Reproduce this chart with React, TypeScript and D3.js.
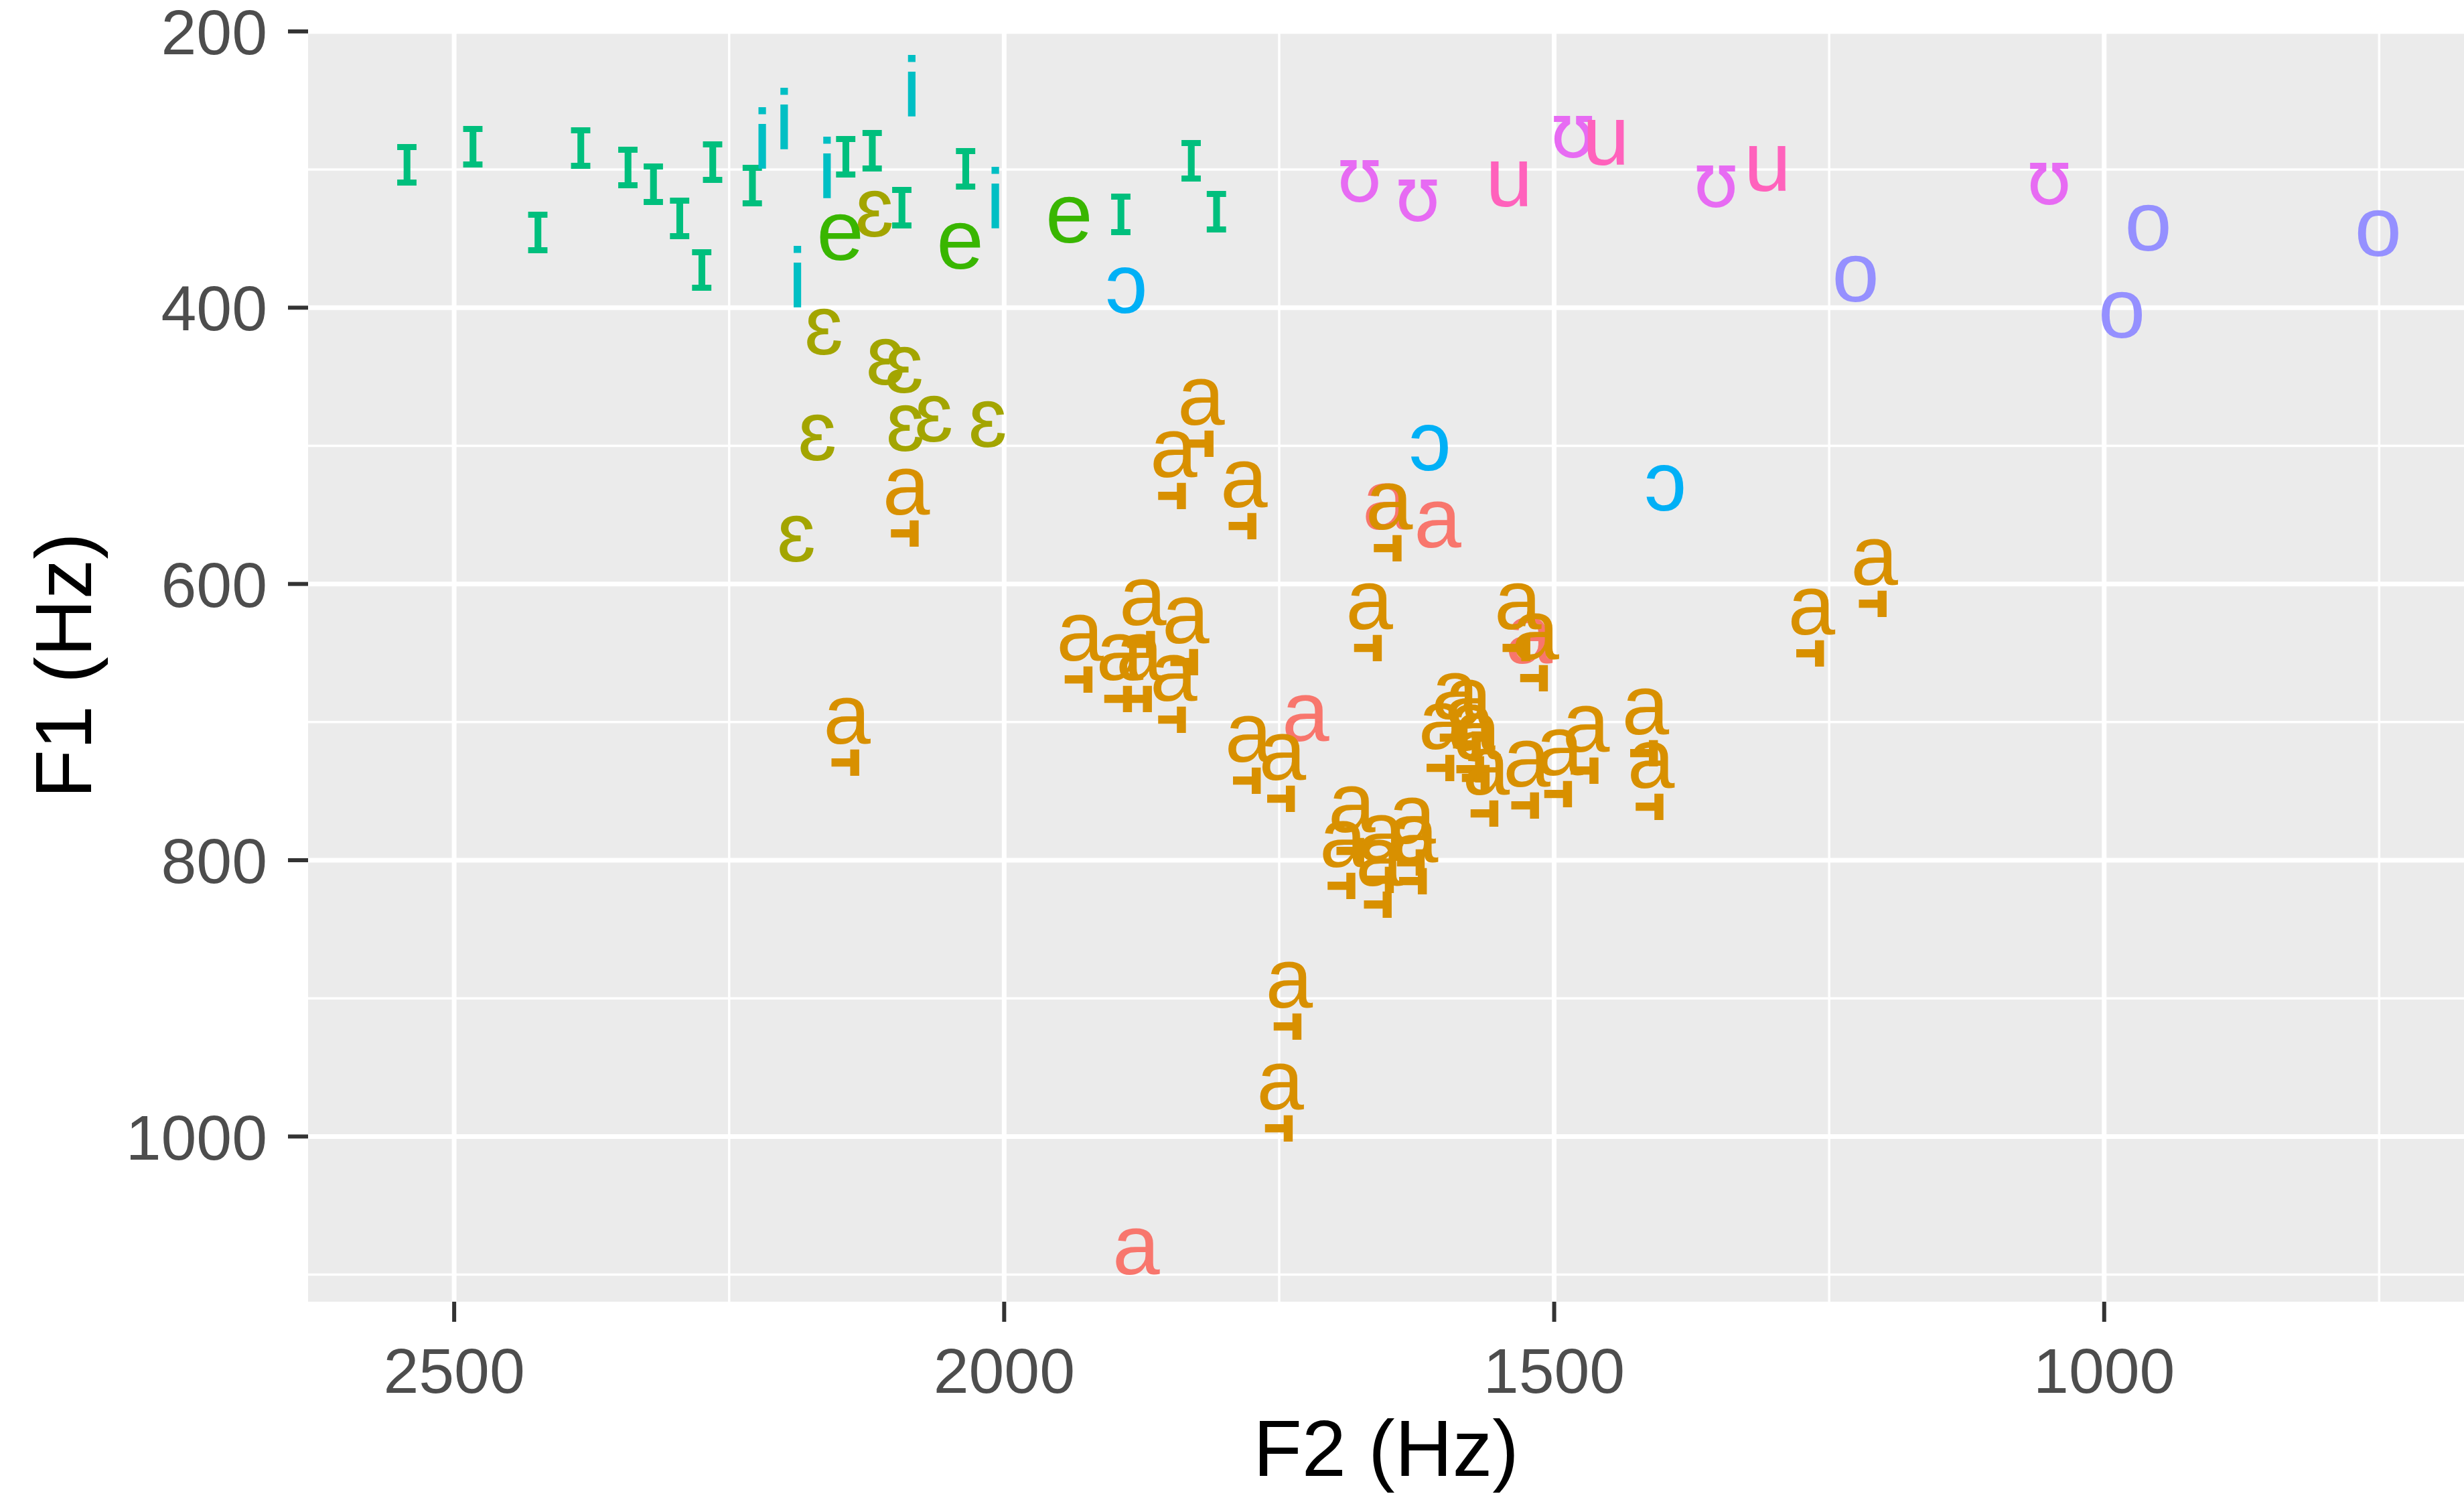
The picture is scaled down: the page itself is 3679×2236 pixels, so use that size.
import React from "react"
import * as d3 from "d3"

// vowel categories in legend order, with ggplot hue colours
const vowelLevels = ["a", "a\u0318", "ɛ", "e", "ɪ", "i", "ɔ", "o", "ʊ", "u"]
const vowelColors = [
  "#F8766D",
  "#D89000",
  "#A3A500",
  "#39B600",
  "#00BF7D",
  "#00BFC4",
  "#00B0F6",
  "#9590FF",
  "#E76BF3",
  "#FF62BC",
]

// formant values per vowel (F2, F1 in Hz)
const f2A = [1880, 1653, 1606, 1726, 1523]
const f1A = [1083, 544, 557, 697, 641]

const f2AAtr = [
  1821, 1846, 1782, 1650, 2089, 1209, 1266, 2143, 1533, 1517, 1741, 1749, 1874,
  1931, 1835, 1895, 1877, 1846, 1668, 1778, 1747, 1590, 1578, 1602, 1575, 1570,
  1562, 1525, 1495, 1471, 1417, 1412, 1684, 1629, 1657, 1692, 1627, 1659,
]
const f1AAtr = [
  468, 506, 528, 544, 533, 584, 620, 699, 616, 638, 890, 964, 613, 639, 626,
  653, 653, 668, 616, 712, 725, 681, 686, 703, 704, 710, 736, 730, 722, 705, 692,
  731, 763, 771, 784, 788, 785, 802,
]

const f2OpenE = [2118, 2164, 2108, 2091, 2090, 2064, 2015, 2170, 2189]
const f1OpenE = [332, 417, 439, 445, 487, 480, 484, 494, 567]

const f2E = [2149, 2040, 1941]
const f1E = [349, 355, 336]

const f2SmallI = [
  2543, 2483, 2424, 2385, 2342, 2319, 2295, 2275, 2265, 2229, 2144, 2120, 2093,
  2035, 1894, 1830, 1807,
]
const f1SmallI = [
  295, 282, 344, 283, 297, 309, 334, 371, 293, 310, 289, 285, 326, 298, 331, 292,
  329,
]

const f2I = [2220, 2200, 2161, 2084, 2008, 2188]
const f1I = [283, 269, 304, 245, 326, 383]

const f2OpenO = [1889, 1613, 1399]
const f1OpenO = [387, 501, 530]

const f2O = [1226, 960, 984, 751]
const f1O = [379, 342, 405, 346]

const f2Upsilon = [1677, 1624, 1483, 1353, 1050]
const f1Upsilon = [306, 320, 274, 310, 308]

const f2U = [1541, 1453, 1306]
const f1U = [310, 280, 299]

const seriesF2 = [f2A, f2AAtr, f2OpenE, f2E, f2SmallI, f2I, f2OpenO, f2O, f2Upsilon, f2U]
const seriesF1 = [f1A, f1AAtr, f1OpenE, f1E, f1SmallI, f1I, f1OpenO, f1O, f1Upsilon, f1U]

const xMajor = [2500, 2000, 1500, 1000]
const xMinor = [2250, 1750, 1250, 750]
const yMajor = [200, 400, 600, 800, 1000]
const yMinor = [300, 500, 700, 900, 1100]

const W = 3679
const H = 2236
const LABEL_SIZE = 127
const MARK_SIZE = 250

export default function App() {
  const panel = { left: 460, right: W, top: 44, bottom: 1943 }

  const x = d3
    .scaleLinear()
    .domain([2632.8, 672.9])
    .range([panel.left, panel.right])
  const y = d3
    .scaleLinear()
    .domain([198.6, 1119.6])
    .range([panel.top, panel.bottom])

  const points = vowelLevels.flatMap((v, k) =>
    seriesF2[k].map((f2, j) => ({
      label: v,
      color: vowelColors[k],
      f2,
      f1: seriesF1[k][j],
    })),
  )

  // the IPA glyphs that come from the fallback font in the original
  const dejavu = (s: string) => s === "ɪ" || s === "ʊ"

  return (
    <svg
      width={W}
      height={H}
      style={{ position: "absolute", left: 0, top: 0, background: "#fff" }}
      fontFamily="'Liberation Sans', Arial, Helvetica, sans-serif"
    >
      <defs>
        <clipPath id="panel-clip">
          <rect
            x={panel.left}
            y={panel.top}
            width={panel.right - panel.left}
            height={panel.bottom - panel.top}
          />
        </clipPath>
      </defs>

      <rect
        x={panel.left}
        y={panel.top}
        width={panel.right - panel.left}
        height={panel.bottom - panel.top}
        fill="#EBEBEB"
      />

      <g clipPath="url(#panel-clip)">
        {xMinor.map((t) => (
          <line key={"xm" + t} x1={x(t)} x2={x(t)} y1={panel.top} y2={panel.bottom} stroke="#fff" strokeWidth={3.5} />
        ))}
        {yMinor.map((t) => (
          <line key={"ym" + t} x1={panel.left} x2={panel.right} y1={y(t)} y2={y(t)} stroke="#fff" strokeWidth={3.5} />
        ))}
        {xMajor.map((t) => (
          <line key={"xM" + t} x1={x(t)} x2={x(t)} y1={panel.top} y2={panel.bottom} stroke="#fff" strokeWidth={7} />
        ))}
        {yMajor.map((t) => (
          <line key={"yM" + t} x1={panel.left} x2={panel.right} y1={y(t)} y2={y(t)} stroke="#fff" strokeWidth={7} />
        ))}

        {points.map((p, i) => {
          const base = p.label.slice(0, 1)
          const mark = p.label.slice(1)
          const cx = x(p.f2)
          const cy = y(p.f1)
          if (mark) {
            // base "a" placed by hand (advance 0.556em), the tack drawn un-attached
            // below it, as the original device drew it
            return (
              <text
                key={i}
                x={cx - LABEL_SIZE * 0.278}
                y={cy + LABEL_SIZE * 0.27}
                fontSize={LABEL_SIZE}
                fill={p.color}
              >
                {base}
                <tspan
                  fontFamily="'DejaVu Sans'"
                  fontWeight={200}
                  fontSize={MARK_SIZE}
                  dx={-37}
                  dy={-6}
                >
                  {mark}
                </tspan>
              </text>
            )
          }
          return (
            <text
              key={i}
              x={cx}
              y={cy + LABEL_SIZE * 0.27}
              textAnchor="middle"
              fontSize={dejavu(base) ? LABEL_SIZE * 0.88 : LABEL_SIZE}
              fontFamily={dejavu(base) ? "'DejaVu Sans'" : undefined}
              fill={p.color}
            >
              {p.label}
            </text>
          )
        })}
      </g>

      {/* y axis */}
      {yMajor.map((t) => (
        <g key={"yt" + t}>
          <line x1={panel.left - 30} x2={panel.left} y1={y(t)} y2={y(t)} stroke="#333333" strokeWidth={6} />
          <text
            x={panel.left - 61}
            y={y(t)}
            dy="0.36em"
            textAnchor="end"
            fontSize={95}
            fill="#4D4D4D"
          >
            {t}
          </text>
        </g>
      ))}

      {/* x axis */}
      {xMajor.map((t) => (
        <g key={"xt" + t}>
          <line x1={x(t)} x2={x(t)} y1={panel.bottom} y2={panel.bottom + 30} stroke="#333333" strokeWidth={6} />
          <text x={x(t)} y={2079} textAnchor="middle" fontSize={95} fill="#4D4D4D">
            {t}
          </text>
        </g>
      ))}

      <text
        x={(panel.left + panel.right) / 2}
        y={2203}
        textAnchor="middle"
        fontSize={119}
        fill="#000"
      >
        F2 (Hz)
      </text>
      <text
        transform={`translate(136,${(panel.top + panel.bottom) / 2}) rotate(-90)`}
        textAnchor="middle"
        fontSize={119}
        fill="#000"
      >
        F1 (Hz)
      </text>
    </svg>
  )
}
